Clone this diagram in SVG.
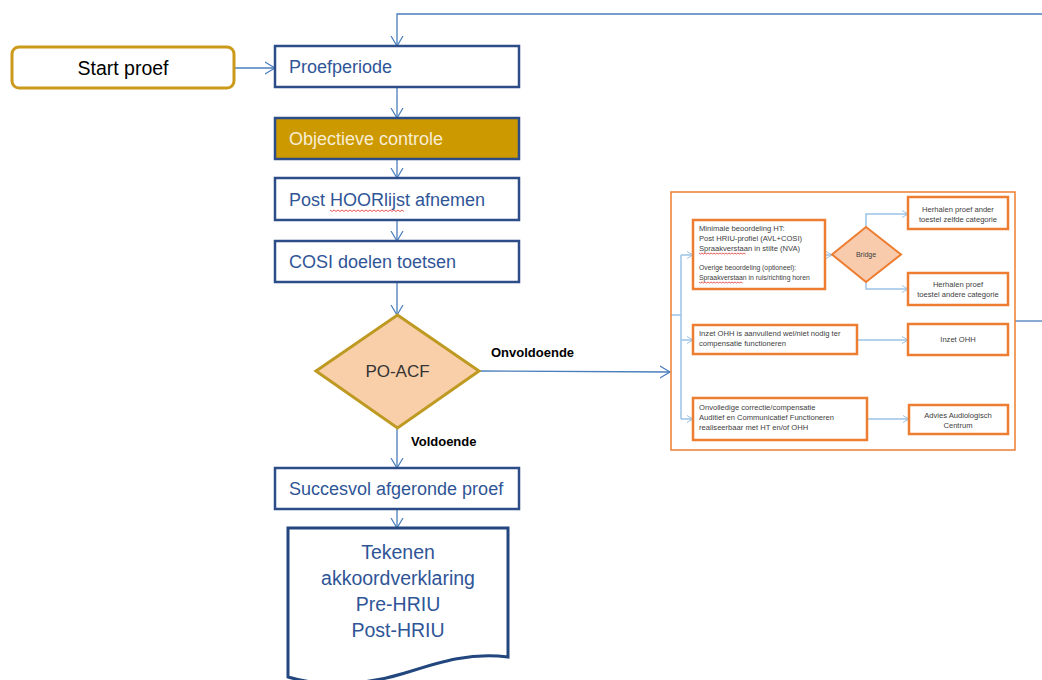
<svg xmlns="http://www.w3.org/2000/svg" width="1042" height="680" viewBox="0 0 1042 680">
<defs>
<marker id="arr" markerUnits="userSpaceOnUse" markerWidth="12" markerHeight="14" refX="10" refY="6" orient="auto" viewBox="0 0 12 12">
<path d="M0,0 L10,6 L0,12" fill="none" stroke="#4A7EBB" stroke-width="1.2"/>
</marker>
<marker id="arrs" markerUnits="userSpaceOnUse" markerWidth="8" markerHeight="8" refX="6" refY="4" orient="auto" viewBox="0 0 8 8">
<path d="M0,0.5 L6,4 L0,7.5" fill="none" stroke="#9DC3E6" stroke-width="1"/>
</marker>
<style>
.bx{fill:#fff;stroke:#2C4D87;stroke-width:2.5}
.mt{font-family:"Liberation Sans",Arial,sans-serif;font-size:18px;fill:#2F5597}
.c{stroke:#4A7EBB;stroke-width:1.3;fill:none}
.ci{stroke:#9DC3E6;stroke-width:1.5;fill:none}
.ob{fill:#fff;stroke:#ED7D31;stroke-width:2.5}
.st{font-family:"Liberation Sans",Arial,sans-serif;font-size:7.6px;fill:#404040}
.ss{font-family:"Liberation Sans",Arial,sans-serif;font-size:6.8px;fill:#404040}
.lb{font-family:"Liberation Sans",Arial,sans-serif;font-size:13px;font-weight:bold;fill:#000}
.sq{fill:none;stroke:#E03030;stroke-width:0.8}
</style>
</defs>

<g id="connectors">
<polyline class="c" points="1042,14 397,14 397,46" marker-end="url(#arr)"/>
<line class="c" x1="1015" y1="321" x2="1042" y2="321"/>
<line class="c" x1="235" y1="68" x2="275" y2="68" marker-end="url(#arr)"/>
<line class="c" x1="397" y1="88" x2="397" y2="118" marker-end="url(#arr)"/>
<line class="c" x1="397" y1="159" x2="397" y2="178" marker-end="url(#arr)"/>
<line class="c" x1="397" y1="220" x2="397" y2="241" marker-end="url(#arr)"/>
<line class="c" x1="397" y1="282" x2="397" y2="315" marker-end="url(#arr)"/>
<line class="c" x1="479" y1="371" x2="670" y2="372" marker-end="url(#arr)"/>
<line class="c" x1="397" y1="428" x2="397" y2="468" marker-end="url(#arr)"/>
<line class="c" x1="397" y1="509" x2="397" y2="528" marker-end="url(#arr)"/>
<polyline class="ci" points="671,315 681,315"/>
<line class="ci" x1="681" y1="255" x2="681" y2="419"/>
<line class="ci" x1="681" y1="255" x2="693" y2="255" marker-end="url(#arrs)"/>
<line class="ci" x1="681" y1="340" x2="693" y2="340" marker-end="url(#arrs)"/>
<line class="ci" x1="681" y1="419" x2="693" y2="419" marker-end="url(#arrs)"/>
<line class="ci" x1="825" y1="255" x2="832" y2="255" marker-end="url(#arrs)"/>
<polyline class="ci" points="866,227 866,214 908,214" marker-end="url(#arrs)"/>
<polyline class="ci" points="866,282 866,289 908,289" marker-end="url(#arrs)"/>
<line class="ci" x1="857" y1="340" x2="908" y2="340" marker-end="url(#arrs)"/>
<line class="ci" x1="867" y1="419" x2="909" y2="419" marker-end="url(#arrs)"/>
</g>

<g id="labels">
<text class="lb" x="491" y="357">Onvoldoende</text>
<text class="lb" x="411" y="446">Voldoende</text>
</g>

<g id="start">
<rect x="12" y="47" width="222" height="41" rx="7" fill="#fff" stroke="#CC9A1A" stroke-width="3"/>
<text x="123" y="75" text-anchor="middle" font-family="Liberation Sans,Arial,sans-serif" font-size="19.5" fill="#000">Start proef</text>
</g>

<g id="proefperiode">
<rect class="bx" x="275" y="46" width="244" height="41"/>
<text class="mt" x="289" y="73">Proefperiode</text>
</g>

<g id="objectieve">
<rect x="275" y="118" width="244" height="41" fill="#CC9900" stroke="#2C4D87" stroke-width="2.5"/>
<text class="mt" x="289" y="145" style="fill:#F7EDD3">Objectieve controle</text>
</g>

<g id="posthoor">
<rect class="bx" x="275" y="178" width="244" height="42"/>
<text class="mt" x="289" y="206">Post HOORlijst afnemen</text>
<path class="sq" d="M330,210 l2,1.5 l2,-1.5 l2,1.5 l2,-1.5 l2,1.5 l2,-1.5 l2,1.5 l2,-1.5 l2,1.5 l2,-1.5 l2,1.5 l2,-1.5 l2,1.5 l2,-1.5 l2,1.5 l2,-1.5 l2,1.5 l2,-1.5 l2,1.5 l2,-1.5 l2,1.5 l2,-1.5 l2,1.5 l2,-1.5 l2,1.5 l2,-1.5 l2,1.5 l2,-1.5 l2,1.5 l2,-1.5 l2,1.5 l2,-1.5 l2,1.5 l2,-1.5 l2,1.5 l2,-1.5 l2,1.5"/>
</g>

<g id="cosi">
<rect class="bx" x="275" y="241" width="244" height="41"/>
<text class="mt" x="289" y="268">COSI doelen toetsen</text>
</g>

<g id="poacf">
<polygon points="397.5,315 479,371 397.5,428 316,371" fill="#F9CFAA" stroke="#BE9A22" stroke-width="3"/>
<text x="397.5" y="377" text-anchor="middle" font-family="Liberation Sans,Arial,sans-serif" font-size="17" fill="#333">PO-ACF</text>
</g>

<g id="succesvol">
<rect class="bx" x="275" y="468" width="244" height="41"/>
<text class="mt" x="289" y="495">Succesvol afgeronde proef</text>
</g>

<g id="tekenen">
<path d="M288,528 H508 V657 C470,652 440,662 405,673 C370,684 325,688 288,677 Z" fill="#fff" stroke="#22467E" stroke-width="3"/>
<g font-family="Liberation Sans,Arial,sans-serif" font-size="19.5" fill="#2F5597" text-anchor="middle">
<text x="398" y="559">Tekenen</text>
<text x="398" y="585">akkoordverklaring</text>
<text x="398" y="611">Pre-HRIU</text>
<text x="398" y="637">Post-HRIU</text>
</g>
</g>

<g id="container">
<rect x="671" y="192" width="344" height="258" fill="none" stroke="#ED7D31" stroke-width="1.5"/>
</g>

<g id="minimale">
<rect class="ob" x="693" y="220" width="132" height="69"/>
<text class="st" x="699" y="231">Minimale beoordeling HT:</text>
<text class="st" x="699" y="241">Post HRIU-profiel (AVL+COSI)</text>
<text class="st" x="699" y="251">Spraakverstaan in stilte (NVA)</text>
<text class="ss" x="699" y="270">Overige beoordeling (optioneel):</text>
<text class="ss" x="699" y="280">Spraakverstaan  in ruis/richting horen</text>
<path class="sq" d="M699,253 l1.5,1 l1.5,-1 l1.5,1 l1.5,-1 l1.5,1 l1.5,-1 l1.5,1 l1.5,-1 l1.5,1 l1.5,-1 l1.5,1 l1.5,-1 l1.5,1 l1.5,-1 l1.5,1 l1.5,-1 l1.5,1 l1.5,-1 l1.5,1 l1.5,-1 l1.5,1 l1.5,-1 l1.5,1 l1.5,-1 l1.5,1 l1.5,-1 l1.5,1 l1.5,-1 l1.5,1 l1.5,-1 l1.5,1"/>
<path class="sq" d="M699,282 l1.5,1 l1.5,-1 l1.5,1 l1.5,-1 l1.5,1 l1.5,-1 l1.5,1 l1.5,-1 l1.5,1 l1.5,-1 l1.5,1 l1.5,-1 l1.5,1 l1.5,-1 l1.5,1 l1.5,-1 l1.5,1 l1.5,-1 l1.5,1 l1.5,-1 l1.5,1 l1.5,-1 l1.5,1 l1.5,-1 l1.5,1 l1.5,-1 l1.5,1 l1.5,-1 l1.5,1"/>
</g>

<g id="bridge">
<polygon points="866,227 901,254.5 866,282 832,254.5" fill="#F8CBAD" stroke="#ED7D31" stroke-width="2"/>
<text x="866" y="257" text-anchor="middle" font-family="Liberation Sans,Arial,sans-serif" font-size="7" fill="#404040">Bridge</text>
</g>

<g id="herhalen1">
<rect class="ob" x="908" y="197" width="100" height="32"/>
<text class="st" x="958" y="211.5" text-anchor="middle">Herhalen proef ander</text>
<text class="st" x="958" y="222" text-anchor="middle">toestel zelfde categorie</text>
</g>

<g id="herhalen2">
<rect class="ob" x="908" y="273" width="100" height="32"/>
<text class="st" x="958" y="286.5" text-anchor="middle">Herhalen proef</text>
<text class="st" x="958" y="297" text-anchor="middle">toestel andere  categorie</text>
</g>

<g id="inzetaanvullend">
<rect class="ob" x="693" y="325" width="164" height="29"/>
<text class="st" x="699" y="336">Inzet OHH is aanvullend wel/niet nodig ter</text>
<text class="st" x="699" y="346">compensatie functioneren</text>
</g>

<g id="inzetohh">
<rect class="ob" x="908" y="324" width="100" height="31"/>
<text class="st" x="958" y="342" text-anchor="middle">Inzet OHH</text>
</g>

<g id="onvolledige">
<rect class="ob" x="693" y="398" width="174" height="42"/>
<text class="st" x="699" y="409.5">Onvolledige correctie/compensatie</text>
<text class="st" x="699" y="419.5">Auditief en Communicatief Functioneren</text>
<text class="st" x="699" y="429.5">realiseerbaar met HT en/of OHH</text>
</g>

<g id="advies">
<rect class="ob" x="909" y="405" width="99" height="29"/>
<text class="st" x="958" y="417.5" text-anchor="middle">Advies Audiologisch</text>
<text class="st" x="958" y="428" text-anchor="middle">Centrum</text>
</g>
</svg>
